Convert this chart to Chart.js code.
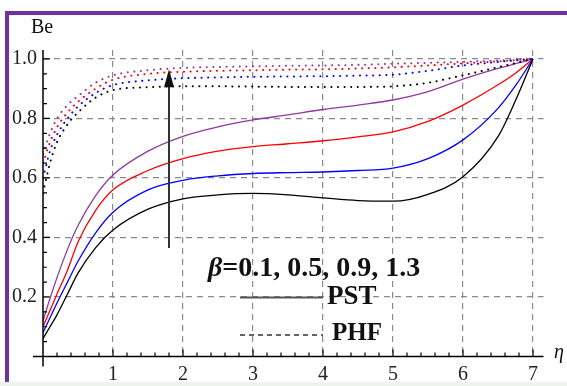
<!DOCTYPE html>
<html>
<head>
<meta charset="utf-8">
<script src="https://cdn.jsdelivr.net/npm/chart.js@4.4.0/dist/chart.umd.min.js"></script>
<style>
  html, body { margin: 0; padding: 0; background: #fff; }
  #wrap { position: relative; width: 567px; height: 386px; overflow: hidden; background: #fff; }
  #frame { position: absolute; left: 5px; top: 11px; width: 620px; height: 420px;
           border-top: 4px solid #7030a0; border-left: 4px solid #7030a0; pointer-events: none; }
  #strip { position: absolute; left: 0; top: 382px; width: 567px; height: 4px; background: #eef3ee; }
  canvas { position: absolute; left: 0; top: 0; }
</style>
</head>
<body>
<div id="wrap">
  <canvas id="beChart" width="567" height="386"></canvas>
  <div id="frame"></div>
  <div id="strip"></div>
</div>
<script>
// Bejan number profiles, PST (solid) vs PHF (dotted), four beta values

const eta = [0, 0.1, 0.2, 0.35, 0.5, 0.75, 1, 1.5, 2, 2.5, 3, 3.5, 4, 4.5, 5, 5.5, 6, 6.5, 6.75, 7];
const betaLabels = ['0.1', '0.5', '0.9', '1.3'];
const xTicks = [1, 2, 3, 4, 5, 6, 7];
const yTicks = [0.2, 0.4, 0.6, 0.8, 1.0];

// solid curves (PST)
const pstBeta01 = [0.06, 0.10, 0.14, 0.21, 0.28, 0.365, 0.425, 0.495, 0.53, 0.543, 0.548, 0.543, 0.533, 0.524, 0.522, 0.545, 0.604, 0.739, 0.86, 1.0];
const pstBeta05 = [0.08, 0.13, 0.18, 0.25, 0.32, 0.415, 0.485, 0.56, 0.592, 0.607, 0.615, 0.618, 0.62, 0.625, 0.633, 0.665, 0.728, 0.834, 0.91, 1.0];
const pstBeta09 = [0.10, 0.155, 0.21, 0.29, 0.385, 0.49, 0.56, 0.625, 0.665, 0.69, 0.705, 0.715, 0.725, 0.738, 0.755, 0.79, 0.845, 0.913, 0.952, 1.0];
const pstBeta13 = [0.12, 0.195, 0.265, 0.36, 0.44, 0.54, 0.61, 0.69, 0.74, 0.772, 0.795, 0.812, 0.83, 0.845, 0.862, 0.89, 0.932, 0.968, 0.984, 1.0];

// dotted curves (PHF)
const phfBeta01 = [0.55, 0.65, 0.72, 0.78, 0.82, 0.87, 0.895, 0.905, 0.908, 0.908, 0.907, 0.906, 0.906, 0.906, 0.908, 0.92, 0.945, 0.972, 0.986, 1.0];
const phfBeta05 = [0.60, 0.69, 0.745, 0.80, 0.84, 0.885, 0.912, 0.928, 0.935, 0.938, 0.94, 0.941, 0.942, 0.944, 0.947, 0.96, 0.978, 0.99, 0.995, 1.0];
const phfBeta09 = [0.65, 0.72, 0.77, 0.82, 0.856, 0.90, 0.93, 0.95, 0.957, 0.96, 0.962, 0.964, 0.965, 0.968, 0.972, 0.978, 0.985, 0.992, 0.996, 1.0];
const phfBeta13 = [0.68, 0.75, 0.80, 0.845, 0.875, 0.92, 0.945, 0.962, 0.97, 0.973, 0.975, 0.977, 0.978, 0.98, 0.984, 0.987, 0.99, 0.995, 0.997, 1.0];

const arrowEta = 1.8;
const arrowFrom = 0.365;
const arrowTo = 0.965;

const colors = ['#000000', '#0000ff', '#ff0000', '#8e3a9e'];
const serif = '"Liberation Serif", "DejaVu Serif", serif';

function toPoints(values) {
    return values.map((v, i) => ({ x: eta[i], y: v }));
}

function solid(values, color) {
    return {
        data: toPoints(values),
        borderColor: color,
        borderWidth: 1.3,
        pointRadius: 0,
        cubicInterpolationMode: 'monotone',
        fill: false
    };
}

function dotted(values, color) {
    return {
        data: toPoints(values),
        borderColor: color,
        borderWidth: 2,
        borderDash: [0.1, 6.5],
        borderCapStyle: 'round',
        pointRadius: 0,
        cubicInterpolationMode: 'monotone',
        fill: false
    };
}

const decor = {
    id: 'decor',
    afterDatasetsDraw(chart) {
        const { ctx, chartArea: a, scales: { x, y } } = chart;
        const x0 = x.getPixelForValue(0);
        const y0 = y.getPixelForValue(0);
        ctx.save();

        // axes, crossing a little past the origin
        ctx.strokeStyle = '#000';
        ctx.lineWidth = 1.5;
        ctx.beginPath();
        ctx.moveTo(x0 - 10, y0);
        ctx.lineTo(a.right, y0);
        ctx.moveTo(x0, a.top);
        ctx.lineTo(x0, y0 + 10);
        ctx.stroke();

        // inward ticks
        ctx.lineWidth = 1.2;
        ctx.beginPath();
        for (let i = 1; i <= 35; i++) {
            const px = x.getPixelForValue(i / 5);
            const len = i % 5 === 0 ? 7 : 4;
            ctx.moveTo(px, y0);
            ctx.lineTo(px, y0 - len);
        }
        for (let i = 1; i <= 20; i++) {
            const py = y.getPixelForValue(i / 20);
            const len = i % 4 === 0 ? 7 : 4;
            ctx.moveTo(x0, py);
            ctx.lineTo(x0 + len, py);
        }
        ctx.stroke();

        // axis names
        ctx.fillStyle = '#111';
        ctx.textBaseline = 'alphabetic';
        ctx.font = '20px ' + serif;
        ctx.fillText('Be', 31, 33);
        ctx.font = 'italic 20px ' + serif;
        ctx.fillText('\u03b7', 554, 358);

        // arrow for increasing beta
        const ax = x.getPixelForValue(arrowEta);
        const ayFrom = y.getPixelForValue(arrowFrom);
        const ayTo = y.getPixelForValue(arrowTo);
        ctx.strokeStyle = '#333';
        ctx.fillStyle = '#111';
        ctx.lineWidth = 2;
        ctx.beginPath();
        ctx.moveTo(ax, ayFrom);
        ctx.lineTo(ax, ayTo + 12);
        ctx.stroke();
        ctx.beginPath();
        ctx.moveTo(ax, ayTo);
        ctx.lineTo(ax - 5, ayTo + 18);
        ctx.lineTo(ax + 5, ayTo + 18);
        ctx.closePath();
        ctx.fill();

        // legend block
        ctx.fillStyle = '#111';
        ctx.font = 'italic bold 28px ' + serif;
        ctx.fillText('\u03b2', 208, 276);
        const bw = ctx.measureText('\u03b2').width;
        ctx.font = 'bold 28px ' + serif;
        ctx.fillText('=' + betaLabels.join(', '), 208 + bw, 276);
        ctx.font = 'bold 27px ' + serif;
        ctx.fillText('PST', 327, 304);
        ctx.font = 'bold 25px ' + serif;
        ctx.fillText('PHF', 332, 340);

        ctx.strokeStyle = '#555';
        ctx.lineWidth = 2;
        ctx.beginPath();
        ctx.moveTo(240, 297.5);
        ctx.lineTo(323, 297.5);
        ctx.stroke();
        ctx.strokeStyle = '#333';
        ctx.lineWidth = 1.5;
        ctx.setLineDash([5, 4]);
        ctx.beginPath();
        ctx.moveTo(240, 335);
        ctx.lineTo(323, 335);
        ctx.stroke();
        ctx.restore();
    }
};

const gridOpts = { color: '#8a8a8a', lineWidth: 1.2, drawTicks: false };
const tickFont = { family: serif, size: 20 };

new Chart(document.getElementById('beChart'), {
    type: 'line',
    data: {
        datasets: [
            dotted(phfBeta01, colors[0]),
            dotted(phfBeta05, colors[1]),
            dotted(phfBeta09, colors[2]),
            dotted(phfBeta13, colors[3]),
            solid(pstBeta01, colors[0]),
            solid(pstBeta05, colors[1]),
            solid(pstBeta09, colors[2]),
            solid(pstBeta13, colors[3])
        ]
    },
    options: {
        responsive: false,
        animation: false,
        devicePixelRatio: 1,
        layout: { padding: { top: 50, right: 23.5, left: 0, bottom: 0 } },
        plugins: {
            legend: { display: false },
            tooltip: { enabled: false }
        },
        scales: {
            x: {
                type: 'linear',
                min: 0,
                max: 7.15,
                afterBuildTicks: s => { s.ticks = xTicks.map(v => ({ value: v })); },
                afterFit: s => { s.height = 29.5; },
                grid: gridOpts,
                border: { display: false, dash: [6, 5] },
                ticks: { color: '#222', font: tickFont, padding: 6, maxRotation: 0, autoSkip: false,
                         callback: v => String(v) }
            },
            y: {
                type: 'linear',
                min: 0,
                max: 1.03,
                afterBuildTicks: s => { s.ticks = yTicks.map(v => ({ value: v })); },
                afterFit: s => { s.width = 43; },
                grid: gridOpts,
                border: { display: false, dash: [6, 5] },
                ticks: { color: '#222', font: tickFont, padding: 6, autoSkip: false,
                         callback: v => Number(v).toFixed(1) }
            }
        }
    },
    plugins: [decor]
});
</script>
</body>
</html>
